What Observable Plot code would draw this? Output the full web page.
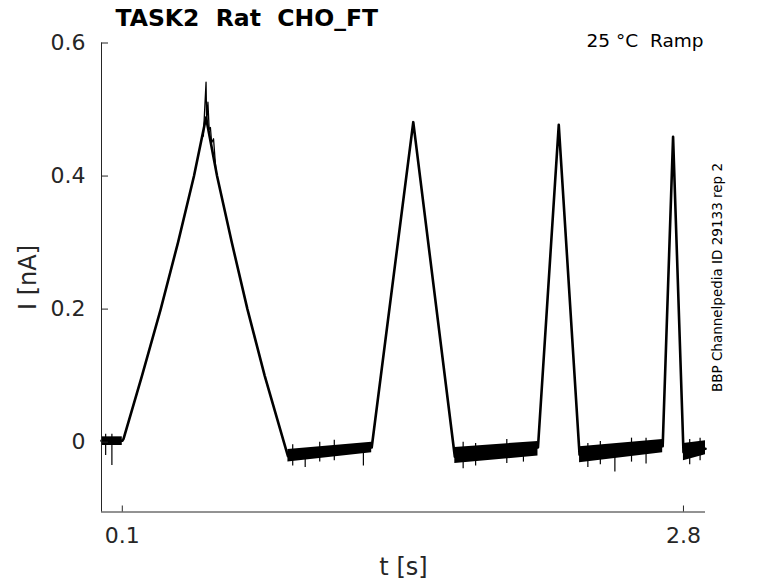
<!DOCTYPE html>
<html>
<head>
<meta charset="utf-8">
<script src="https://cdn.jsdelivr.net/npm/d3@7"></script>
<script src="https://cdn.jsdelivr.net/npm/@observablehq/plot@0.6"></script>
<style>
  html, body { margin: 0; padding: 0; background: #fff; }
  svg text { white-space: pre; }
</style>
</head>
<body>
<div id="chart"></div>
<script>
// ---- data ----
const titleText = "TASK2  Rat  CHO_FT";
const conditionText = "25 °C  Ramp";
const sourceText = "BBP Channelpedia ID 29133 rep 2";
const xLabel = "t [s]";
const yLabel = "I [nA]";

const xDomain = [0, 2.906];
const yDomain = [-0.105, 0.6];
const xTicks = [0.1, 2.8];
const xTickLabels = ["0.1", "2.8"];
const yTicks = [0, 0.2, 0.4, 0.6];
const yTickLabels = ["0", "0.2", "0.4", "0.6"];

// mean current trace
const traceT = [0.0, 0.10, 0.106, 0.195, 0.285, 0.368, 0.445, 0.503, 0.556, 0.627, 0.702, 0.785, 0.897,
                1.30, 1.50, 1.70, 2.10, 2.20, 2.30, 2.70, 2.75, 2.80, 2.906];
const traceI = [0.002, 0.002, 0.005, 0.10, 0.20, 0.30, 0.40, 0.488, 0.40, 0.30, 0.20, 0.10, -0.021,
                -0.008, 0.481, -0.022, -0.008, 0.477, -0.019, -0.006, 0.459, -0.015, -0.010];

// overlapping sweeps around the first peak
const peakT = [0.49, 0.503, 0.506, 0.512, 0.518, 0.524, 0.53, 0.539, 0.55];
const peakI = [0.46, 0.541, 0.48, 0.511, 0.47, 0.473, 0.45, 0.456, 0.41];

// baseline noise envelope (segment, t, low, high)
const bandSeg = [0, 0, 1, 1, 2, 2, 3, 3, 4, 4];
const bandT   = [0.0, 0.10, 0.897, 1.30, 1.70, 2.10, 2.30, 2.70, 2.80, 2.906];
const bandLo  = [-0.005, -0.005, -0.030, -0.016, -0.032, -0.021, -0.031, -0.016, -0.028, -0.019];
const bandHi  = [0.008, 0.008, -0.011, 0.000, -0.008, 0.001, -0.007, 0.004, -0.002, 0.002];

// isolated noise spikes
const spikeT  = [0.02, 0.05, 0.92, 0.98, 1.05, 1.12, 1.26, 1.74, 1.80, 1.95, 2.03, 2.34, 2.40, 2.47, 2.55, 2.62, 2.83, 2.88];
const spikeLo = [-0.020, -0.035, -0.036, -0.038, -0.030, -0.028, -0.036, -0.040, -0.036, -0.032, -0.030, -0.038, -0.034, -0.045, -0.030, -0.033, -0.034, -0.028];
const spikeHi = [0.012, 0.012, -0.004, -0.015, 0.000, 0.003, -0.005, 0.000, -0.002, 0.004, -0.005, -0.002, 0.001, -0.015, 0.006, 0.006, 0.004, 0.006];

// ---- build tables ----
const trace = traceT.map((t, i) => ({t, I: traceI[i]}));
const peak = peakT.map((t, i) => ({t, I: peakI[i]}));
const band = bandT.map((t, i) => ({seg: bandSeg[i], t, lo: bandLo[i], hi: bandHi[i]}));
const spikes = spikeT.map((t, i) => ({t, lo: spikeLo[i], hi: spikeHi[i]}));

const ink = "#262626";
const W = 778, H = 583, mL = 101, mR = 73, mT = 42.5, mB = 71.5;
// inward tick lengths (6 px and 7 px) expressed in data units
const xTickLen = 6 * (yDomain[1] - yDomain[0]) / (H - mT - mB);
const yTickLen = 7 * (xDomain[1] - xDomain[0]) / (W - mL - mR);

const chart = Plot.plot({
  width: W,
  height: H,
  marginLeft: mL,
  marginRight: mR,
  marginTop: mT,
  marginBottom: mB,
  style: {fontFamily: "DejaVu Sans", color: ink, background: "#fff"},
  x: {domain: xDomain},
  y: {domain: yDomain},
  marks: [
    Plot.areaY(band, {x: "t", y1: "lo", y2: "hi", z: "seg", fill: "black"}),
    Plot.ruleX(spikes, {x: "t", y1: "lo", y2: "hi", stroke: "black", strokeWidth: 1.2}),
    Plot.line(trace, {x: "t", y: "I", stroke: "black", strokeWidth: 2.6, strokeLinejoin: "round"}),
    Plot.line(peak, {x: "t", y: "I", stroke: "black", strokeWidth: 1.3}),
    // axis lines
    Plot.ruleX([xDomain[0]], {y1: yDomain[0], y2: yDomain[1], stroke: ink, strokeWidth: 1}),
    Plot.ruleY([yDomain[0]], {x1: xDomain[0], x2: xDomain[1], stroke: ink, strokeWidth: 1}),
    // inward tick marks
    Plot.ruleX(xTicks, {x: d => d, y1: yDomain[0], y2: yDomain[0] + xTickLen, stroke: ink, strokeWidth: 1}),
    Plot.ruleY(yTicks, {y: d => d, x1: xDomain[0], x2: xDomain[0] + yTickLen, stroke: ink, strokeWidth: 1}),
    // tick labels
    Plot.axisX(xTicks, {anchor: "bottom", tickSize: 0, tickPadding: 15, fontSize: 22,
      tickFormat: (d, i) => xTickLabels[i], label: null, fill: ink}),
    Plot.axisY(yTicks, {anchor: "left", tickSize: 0, tickPadding: 16, fontSize: 22,
      tickFormat: (d, i) => yTickLabels[i], label: null, fill: ink}),
    // labels
    Plot.text([yLabel], {text: d => d, frameAnchor: "left", rotate: -90, dx: -73,
      fontSize: 24, fill: ink, textAnchor: "middle", lineAnchor: "middle"}),
    Plot.text([xLabel], {text: d => d, frameAnchor: "bottom", dy: 55,
      fontSize: 24, fill: ink, textAnchor: "middle", lineAnchor: "middle"}),
    Plot.text([titleText], {text: d => d, frameAnchor: "top-left", dx: 14, dy: -24.5,
      fontSize: 23.5, fontWeight: "bold", fill: "black", textAnchor: "start", lineAnchor: "middle"}),
    Plot.text([conditionText], {text: d => d, frameAnchor: "top-right", dx: -2, dy: -2,
      fontSize: 18.5, fill: "black", textAnchor: "end", lineAnchor: "middle"}),
    Plot.text([sourceText], {text: d => d, frameAnchor: "right", dx: 12, rotate: -90,
      fontSize: 13.5, fill: "black", textAnchor: "middle", lineAnchor: "middle"})
  ]
});
document.getElementById("chart").appendChild(chart);
</script>
</body>
</html>
